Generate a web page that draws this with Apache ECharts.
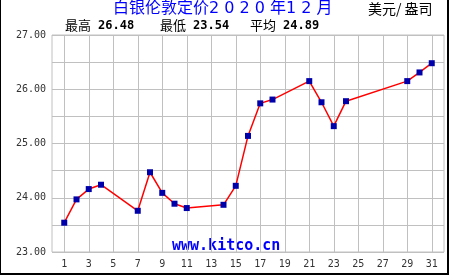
<!DOCTYPE html>
<html><head><meta charset="utf-8">
<script src="https://cdn.jsdelivr.net/npm/echarts@6/dist/echarts.min.js"></script>
<style>html,body{margin:0;padding:0;background:#fff}#c{width:450px;height:275px}</style>
</head><body><div id="c"></div>
<script>
var days = [1,2,3,4,7,8,9,10,11,14,15,16,17,18,21,22,23,24,29,30,31];
var prices = [23.54,23.97,24.16,24.24,23.76,24.47,24.09,23.89,23.81,23.87,24.22,25.14,25.74,25.81,26.15,25.76,25.32,25.78,26.15,26.31,26.48];
var xTicks = [1,3,5,7,9,11,13,15,17,19,21,23,25,27,29,31];
var yTicks = [23,24,25,26,27];
var titleText = '白银伦敦定价2 0 2 0 年1 2 月';
var unitText = '美元/ 盎司';
var statLabels = ['最高','最低','平均'];
var statValues = ['26.48','23.54','24.89'];
var siteText = 'www.kitco.cn';

var chart = echarts.init(document.getElementById('c'), null, {renderer:'canvas'});
var mono = '"DejaVu Sans Mono", monospace';
var cjk = '"Noto Sans CJK SC", sans-serif';
var titleFont = '"DejaVu Sans", "Noto Sans CJK SC", sans-serif';
var statX = [65, 160, 250];
var graphics = [
  {type:'text', left:113, top:1, style:{text:titleText, fill:'#0000ff', font:'16px '+titleFont}},
  {type:'text', left:368, top:2, style:{text:unitText, fill:'#000', font:'14px '+cjk}},
  {type:'rect', shape:{x:0,y:0,width:1,height:275}, style:{fill:'#000'}},
  {type:'rect', shape:{x:447,y:0,width:2,height:275}, style:{fill:'#000'}},
  {type:'rect', shape:{x:0,y:273,width:449,height:2}, style:{fill:'#000'}}
];
statLabels.forEach(function(l,i){
  graphics.push({type:'text', left:statX[i], top:19, style:{text:l, fill:'#000', font:'13px '+cjk}});
  graphics.push({type:'text', left:statX[i]+33, top:20, style:{text:statValues[i], fill:'#000', font:'bold 12px '+mono}});
});
graphics.push({type:'text', left:172, top:239, z:0, style:{text:siteText, fill:'#0000ff', font:'bold 15px '+mono}});

var pts = days.map(function(d,i){return [d, prices[i]];});
chart.setOption({
  animation:false,
  backgroundColor:'#fff',
  grid:{left:52, right:6, top:35, bottom:23, show:true, borderColor:'#c0c0c0', borderWidth:1},
  xAxis:{type:'value', min:0, max:32, interval:1,
    axisLine:{show:false},
    axisTick:{show:false},
    axisLabel:{color:'#333', fontFamily:mono, fontSize:10, margin:7, hideOverlap:false,
      formatter:function(v){ return xTicks.indexOf(v)>=0 ? String(v) : ''; }},
    splitLine:{show:false}
  },
  yAxis:{type:'value', min:23, max:27, interval:0.5,
    axisLine:{show:false}, axisTick:{show:false},
    axisLabel:{color:'#333', fontFamily:mono, fontSize:10, margin:6,
      formatter:function(v){ return yTicks.indexOf(v)>=0 ? v.toFixed(2) : ''; }},
    splitLine:{show:true, lineStyle:{color:'#c0c0c0', width:1}}
  },
  graphic:graphics,
  series:[
    {type:'line', data:pts, smooth:false, symbol:'rect', symbolSize:6,
      itemStyle:{color:'#0000aa'}, lineStyle:{color:'#ff0000', width:1.5}, z:3}
  ]
});

// vertical grid lines placed through the library's own x scale
var yTop = chart.convertToPixel({yAxisIndex:0}, yTicks[yTicks.length-1]);
var yBot = chart.convertToPixel({yAxisIndex:0}, yTicks[0]);
var vlines = xTicks.map(function(v){
  var px = Math.round(chart.convertToPixel({xAxisIndex:0}, v)) + 0.5;
  return {type:'line', z:1, silent:true,
    shape:{x1:px, y1:yTop, x2:px, y2:yBot},
    style:{stroke:'#c0c0c0', lineWidth:1}};
});
chart.setOption({graphic:graphics.concat(vlines)});
</script></body></html>
